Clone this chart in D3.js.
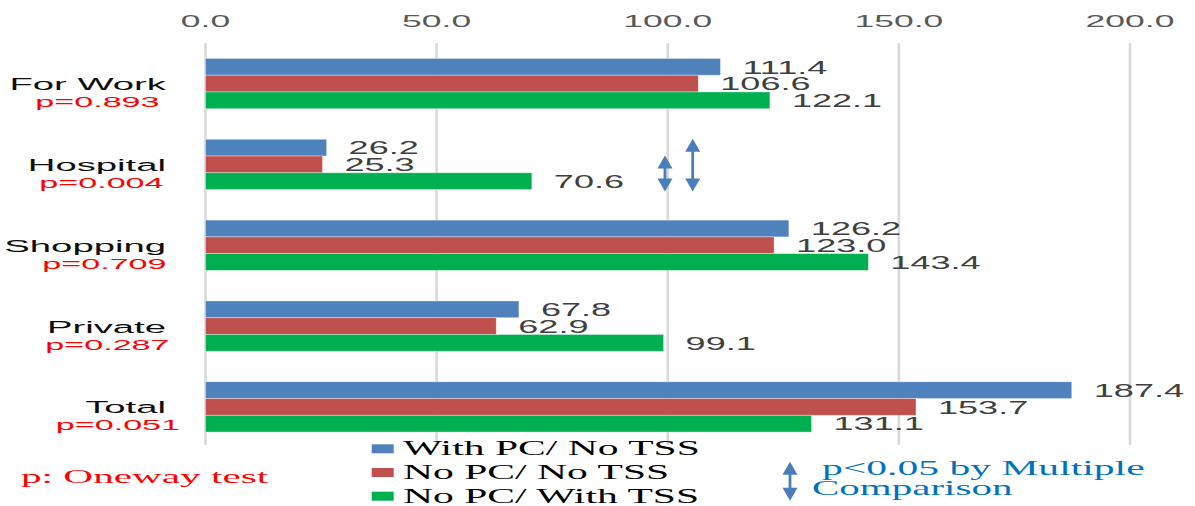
<!DOCTYPE html>
<html>
<head>
<meta charset="utf-8">
<script src="https://cdn.jsdelivr.net/npm/d3@7"></script>
<style>
  html, body { margin: 0; padding: 0; background: #fff; }
  svg { display: block; }
</style>
</head>
<body>
<svg id="chart" width="1195" height="506"></svg>
<script>
// Trip purposes and one-way test p-values
const categories = ["For Work", "Hospital", "Shopping", "Private", "Total"];
const pValues = ["p=0.893", "p=0.004", "p=0.709", "p=0.287", "p=0.051"];

// Series (groups of PC / TSS use)
const seriesNames = ["With PC/ No TSS", "No PC/ No TSS", "No PC/ With TSS"];
const seriesColors = ["#4F81BD", "#C0504D", "#00B050"];
const withPcNoTss = [111.4, 26.2, 126.2, 67.8, 187.4];
const noPcNoTss = [106.6, 25.3, 123.0, 62.9, 153.7];
const noPcWithTss = [122.1, 70.6, 143.4, 99.1, 131.1];

const xTicks = [0, 50, 100, 150, 200];

// Significant pairs from the multiple comparison (category, series pair, x position in value units)
const sigPairs = [
  { category: "Hospital", from: 0, to: 2, at: 105.4 },
  { category: "Hospital", from: 1, to: 2, at: 99.4 }
];

// Horizontal nudge of each p-value label (text boxes placed by hand)
const pShift = [-6.5, -2.5, 0.5, 3.5, 14];

const svg = d3.select("#chart");
const values = [withPcNoTss, noPcNoTss, noPcWithTss];

const x = d3.scaleLinear().domain([0, 200]).range([205.5, 1130]);
const y = d3.scaleBand().domain(categories).range([45.5, 445])
  .paddingInner(0.378).paddingOuter(0.16);
const ySub = d3.scaleBand().domain(d3.range(seriesNames.length)).range([0, y.bandwidth()]);

// Text drawn wide: translate to the anchor, then stretch horizontally
function wideText(g, tx, ty, str, opts) {
  return g.append("text")
    .attr("transform", `translate(${tx},${ty}) scale(${opts.sx},1)`)
    .attr("font-family", opts.family || "'Liberation Sans', Arial, sans-serif")
    .attr("font-size", opts.size)
    .attr("fill", opts.fill)
    .attr("text-anchor", opts.anchor || "start")
    .text(str);
}

// Vertical gridlines
svg.append("g").selectAll("line").data(xTicks).join("line")
  .attr("x1", d => x(d)).attr("x2", d => x(d))
  .attr("y1", 43).attr("y2", 445)
  .attr("stroke", "#D9D9D9").attr("stroke-width", 2.6);

// Top axis labels
const tickG = svg.append("g");
xTicks.forEach(t => {
  wideText(tickG, x(t), 27, d3.format(".1f")(t), { size: 16.5, sx: 2.15, fill: "#595959", anchor: "middle" });
});

// Bars
const groups = svg.append("g").selectAll("g").data(categories).join("g")
  .attr("transform", d => `translate(0,${y(d)})`);

groups.selectAll("rect").data((c, ci) => values.map((s, si) => ({ si, v: s[ci] })))
  .join("rect")
  .attr("x", x(0))
  .attr("y", d => ySub(d.si))
  .attr("width", d => x(d.v) - x(0))
  .attr("height", ySub.bandwidth())
  .attr("fill", d => seriesColors[d.si])
  .attr("stroke", "#ffffff").attr("stroke-opacity", 0.45).attr("stroke-width", 0.8);

// Value labels
const labelG = svg.append("g");
categories.forEach((c, ci) => {
  values.forEach((s, si) => {
    const cy = y(c) + ySub(si) + ySub.bandwidth() / 2;
    wideText(labelG, x(s[ci]) + 22, cy + 6.8, d3.format(".1f")(s[ci]),
      { size: 19, sx: 1.9, fill: "#404040" });
  });
});

// Category labels with p-values
const catG = svg.append("g");
categories.forEach((c, ci) => {
  const cy = y(c) + y.bandwidth() / 2;
  wideText(catG, 166, cy + 6.5, c, { size: 17.4, sx: 2.2, fill: "#0D0D0D", anchor: "end" });
  wideText(catG, 166 + pShift[ci], cy + 23.5, pValues[ci], { size: 15.5, sx: 2.2, fill: "#FF0000", anchor: "end" });
});

// Double-headed arrow
function doubleArrow(g, ax, y1, y2) {
  const head = 13, half = 7.5, color = "#4A7EBB";
  g.append("line").attr("x1", ax).attr("x2", ax)
    .attr("y1", y1 + head - 1).attr("y2", y2 - head + 1)
    .attr("stroke", color).attr("stroke-width", 2.8);
  g.append("path")
    .attr("d", `M${ax},${y1} L${ax + half},${y1 + head} L${ax - half},${y1 + head} Z`)
    .attr("fill", color);
  g.append("path")
    .attr("d", `M${ax},${y2} L${ax + half},${y2 - head} L${ax - half},${y2 - head} Z`)
    .attr("fill", color);
}

const arrowG = svg.append("g");
sigPairs.forEach(p => {
  const top = y(p.category) + ySub(p.from) - 0.5;
  const bottom = y(p.category) + ySub(p.to) + ySub.bandwidth() + 2;
  doubleArrow(arrowG, x(p.at), top, bottom);
});

// Legend
const serif = "'Liberation Serif', 'Times New Roman', serif";
const legG = svg.append("g");
seriesNames.forEach((n, i) => {
  const ly = 444.3 + i * 23.7;
  legG.append("rect").attr("x", 371.7).attr("y", ly).attr("width", 22).attr("height", 9)
    .attr("fill", seriesColors[i]);
  wideText(legG, 403, ly + 11, n, { size: 20, sx: 2.08, fill: "#000000", family: serif });
});

// Notes
wideText(legG, 21, 482.7, "p: Oneway test", { size: 19, sx: 2.17, fill: "#FF0000", family: serif });
doubleArrow(legG, 790, 461.7, 500.7);
wideText(legG, 822, 475, "p<0.05 by Multiple", { size: 20, sx: 2.08, fill: "#0070C0", family: serif });
wideText(legG, 812, 495, "Comparison", { size: 20, sx: 2.05, fill: "#0070C0", family: serif });
</script>
</body>
</html>
